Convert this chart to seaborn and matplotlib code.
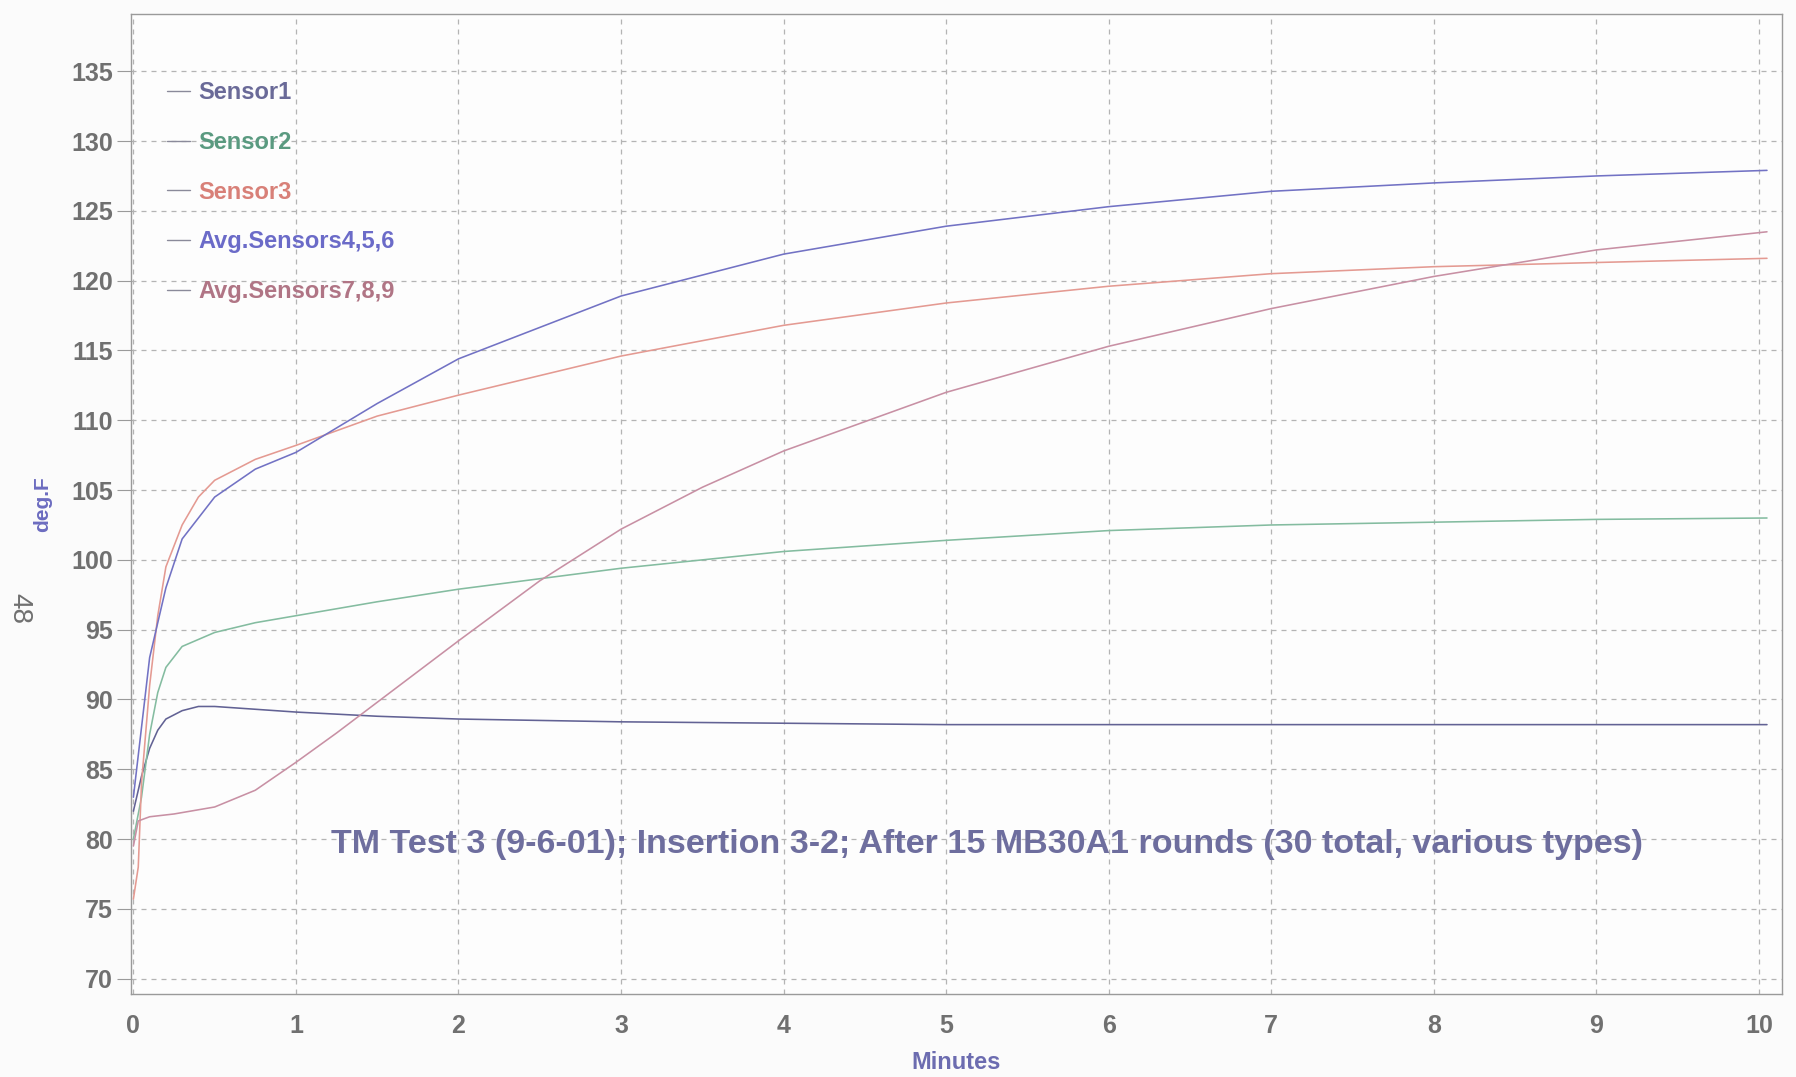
import pandas as pd
import numpy as np
import seaborn as sns
import matplotlib.pyplot as plt

# readings taken off the chart (minutes, deg F)
s1_t = [0, 0.05, 0.1, 0.15, 0.2, 0.3, 0.4, 0.5, 0.75, 1, 1.5, 2, 3, 4, 5, 6, 7, 8, 9, 10.05]
s1_v = [82, 84.5, 86.5, 87.8, 88.6, 89.2, 89.5, 89.5, 89.3, 89.1, 88.8, 88.6, 88.4, 88.3, 88.2, 88.2, 88.2, 88.2, 88.2, 88.2]

s2_t = [0, 0.05, 0.1, 0.15, 0.2, 0.3, 0.5, 0.75, 1, 1.5, 2, 3, 4, 5, 6, 7, 8, 9, 10.05]
s2_v = [80, 83, 87.5, 90.5, 92.3, 93.8, 94.8, 95.5, 96.0, 97.0, 97.9, 99.4, 100.6, 101.4, 102.1, 102.5, 102.7, 102.9, 103.0]

s3_t = [0, 0.03, 0.05, 0.1, 0.15, 0.2, 0.3, 0.4, 0.5, 0.75, 1, 1.5, 2, 3, 4, 5, 6, 7, 8, 9, 10.05]
s3_v = [75.7, 78, 84, 91, 96, 99.5, 102.5, 104.5, 105.7, 107.2, 108.2, 110.3, 111.8, 114.6, 116.8, 118.4, 119.6, 120.5, 121.0, 121.3, 121.6]

a456_t = [0, 0.05, 0.1, 0.2, 0.3, 0.5, 0.75, 1, 1.5, 2, 3, 4, 5, 6, 7, 8, 9, 10.05]
a456_v = [83, 88, 93, 98, 101.5, 104.5, 106.5, 107.7, 111.2, 114.4, 118.9, 121.9, 123.9, 125.3, 126.4, 127.0, 127.5, 127.9]

a789_t = [0, 0.03, 0.1, 0.25, 0.5, 0.75, 1, 1.25, 1.5, 2, 2.5, 3, 3.5, 4, 5, 6, 7, 8, 9, 10.05]
a789_v = [79.5, 81.3, 81.6, 81.8, 82.3, 83.5, 85.5, 87.6, 89.8, 94.2, 98.5, 102.2, 105.2, 107.8, 112.0, 115.3, 118.0, 120.3, 122.2, 123.5]

names = ['Sensor1', 'Sensor2', 'Sensor3', 'Avg.Sensors4,5,6', 'Avg.Sensors7,8,9']
line_colors = ['#626294', '#84bca0', '#e49a92', '#7272c4', '#c890a4']
text_colors = ['#6a6a98', '#5a9a80', '#d88078', '#6b6bc8', '#b07585']

y_ticks = [70, 75, 80, 85, 90, 95, 100, 105, 110, 115, 120, 125, 130, 135]
x_ticks = [0, 1, 2, 3, 4, 5, 6, 7, 8, 9, 10]

title = 'TM Test 3 (9-6-01); Insertion 3-2; After 15 MB30A1 rounds (30 total, various types)'

frames = []
for n, t, v in zip(names, [s1_t, s2_t, s3_t, a456_t, a789_t], [s1_v, s2_v, s3_v, a456_v, a789_v]):
    frames.append(pd.DataFrame({'Minutes': t, 'deg.F': v, 'series': n}))
df = pd.concat(frames, ignore_index=True)

sns.set_style("white")
plt.rcParams['font.family'] = ['Liberation Sans', 'DejaVu Sans']

fig, ax = plt.subplots(figsize=(17.96, 10.77), dpi=100)
fig.patch.set_facecolor('#fbfbfb')
ax.set_facecolor('#fdfdfd')
fig.subplots_adjust(left=0.073, right=0.992, top=0.987, bottom=0.077)

sns.lineplot(data=df, x='Minutes', y='deg.F', hue='series', hue_order=names,
             palette=dict(zip(names, line_colors)), linewidth=1.15, ax=ax, legend=False)

ax.set_xlim(-0.014, 10.14)
ax.set_ylim(68.9, 139.1)
ax.set_yticks(y_ticks)
ax.set_xticks(x_ticks)
ax.grid(True, linestyle=(0, (4, 4)), color='#b4b4b4', linewidth=0.9)
for s in ax.spines.values():
    s.set_color('#9a9a9a')
    s.set_linewidth(1.0)
ax.tick_params(axis='y', length=10, color='#9a9a9a', labelsize=18, labelcolor='#707070', pad=3, left=True)
ax.tick_params(axis='x', length=0, labelsize=18, labelcolor='#707070', pad=14)
for lab in ax.get_xticklabels() + ax.get_yticklabels():
    lab.set_fontweight('bold')

ax.set_xlabel('Minutes', fontsize=17, fontweight='bold', color='#6c6cb0', labelpad=10)
ax.set_ylabel('deg.F', fontsize=15, fontweight='bold', color='#6c6cc0', labelpad=14)

handles = [plt.Line2D([], [], color='#8a8a9a', linewidth=1.0) for _ in names]
leg = ax.legend(handles, names, loc='upper left', bbox_to_anchor=(0.009, 0.953), frameon=False,
                handlelength=0.95, handletextpad=0.35, labelspacing=1.13,
                prop={'size': 17, 'weight': 'bold'})
for txt, c in zip(leg.get_texts(), text_colors):
    txt.set_color(c)

ax.text(5.25, 79.6, title, fontsize=24.5, fontweight='bold', color='#6e6e9e',
        ha='center', va='center')

fig.text(0.011, 0.435, '48', fontsize=20, color='#707070', rotation=-90, ha='center', va='center')

plt.savefig('out.png', dpi=100, facecolor=fig.get_facecolor())
